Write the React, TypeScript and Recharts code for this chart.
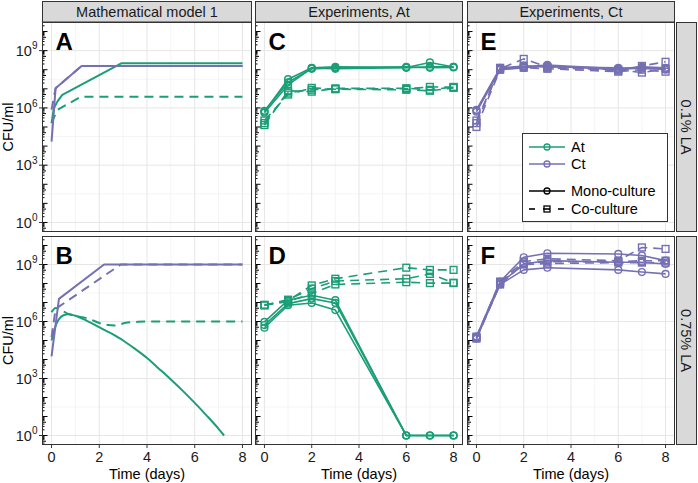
import React from 'react';
import { LineChart, Line, XAxis, YAxis, CartesianGrid } from 'recharts';

const GREEN = '#1B9E77';
const PURPLE = '#7570B3';
const FONT = '"Liberation Sans", Arial, Helvetica, sans-serif';

// ---------- data ----------
const expDays = [0, 1, 2, 3, 6, 7, 8];

// Panel A: model, 0.1% LA
const mA_AtMono_t = [0, 0.1, 0.25, 0.45, 2.94, 8];
const mA_AtMono_y = [1.6e5, 1e6, 2.2e6, 4.8e6, 2.2e8, 2.2e8];
const mA_AtCo_t = [0, 0.24, 1.23, 8];
const mA_AtCo_y = [1.6e5, 7.8e5, 3.9e6, 3.9e6];
const mA_CtMono_t = [0, 0.17, 1.26, 8];
const mA_CtMono_y = [1.7e4, 1.07e7, 1.58e8, 1.58e8];
const mA_CtCo_t = [0, 0.17, 1.26, 8];
const mA_CtCo_y = [8e5, 1.07e7, 1.58e8, 1.58e8];

// Panel B: model, 0.75% LA
const mB_AtMono_t = [0, 0.15, 0.3, 0.5, 0.7, 1, 1.5, 2, 2.5, 3, 3.5, 4, 4.5, 5, 5.5, 6, 6.5, 7, 7.23];
const mB_AtMono_y = [1e5, 5e5, 1.26e6, 2.14e6, 2.4e6, 2e6, 1.05e6, 5e5, 2.34e5, 1e5, 3.6e4, 1.2e4, 3.3e3, 890, 224, 52, 11.2, 2.24, 1];
const mB_AtCo_t = [0, 0.17, 0.7, 1.55, 2.1, 2.65, 3.1, 3.6, 4.2, 8];
const mB_AtCo_y = [3.1e6, 5.2e6, 2.5e6, 1.4e6, 7.6e5, 6.2e5, 8.5e5, 9.6e5, 1e6, 1e6];
const mB_CtMono_t = [0, 0.31, 2.2, 8];
const mB_CtMono_y = [1.45e4, 1.55e7, 1e9, 1e9];
const mB_CtCo_t = [0, 0.17, 2.9, 8];
const mB_CtCo_y = [1.5e5, 4.6e6, 1e9, 1e9];

// Panel C: experiments At, 0.1% LA (3 replicates)
const C_mono = [
  [6.3e5, 3.2e7, 1.26e8, 1.41e8, 1.32e8, 2.4e8, 1.4e8],
  [7.1e5, 2.2e7, 1.12e8, 1.26e8, 1.41e8, 1.26e8, 1.32e8],
  [5.6e5, 1.6e7, 1.2e8, 1.12e8, 1.26e8, 1.41e8, 1.41e8],
];
const C_co = [
  [1.6e5, 6.3e6, 8.9e6, 1e7, 1e7, 1.26e7, 1.2e7],
  [2.2e5, 5e6, 1.12e7, 9.5e6, 8.9e6, 7.9e6, 1.12e7],
  [1.26e5, 7.9e6, 7.1e6, 1.05e7, 1.07e7, 8.9e6, 1.26e7],
];

// Panel D: experiments At, 0.75% LA
const D_mono = [
  [9.5e5, 1.32e7, 2.4e7, 1.32e7, 1, 1, 1],
  [6.5e5, 8.7e6, 1.6e7, 9.5e6, 1, 1, 1],
  [4.7e5, 7.2e6, 9.5e6, 4e6, 1, 1, 1],
];
const D_co = [
  [7.6e6, 1.26e7, 7.9e7, 1.78e8, 6.8e8, 5.2e8, 5.2e8],
  [7.1e6, 1.41e7, 5.4e7, 1.35e8, 1.78e8, 3.2e8, 1.1e8],
  [7.2e6, 1.12e7, 3e7, 8.9e7, 1.17e8, 1.05e8, 1.05e8],
];

// Panel E: experiments Ct, 0.1% LA
const E_mono = [
  [7.2e5, 1.12e8, 1.41e8, 1.78e8, 1.12e8, 1.41e8, 1.26e8],
  [6.3e5, 1e8, 1.26e8, 1.58e8, 1e8, 1.26e8, 1e8],
  [7.9e5, 1.26e8, 1.58e8, 1.41e8, 1.26e8, 1.12e8, 1.12e8],
];
const E_co = [
  [2.2e5, 1.12e8, 3.7e8, 1.41e8, 8.9e7, 1.58e8, 2.6e8],
  [1e5, 1e8, 1.58e8, 1.26e8, 1e8, 7.1e7, 1.12e8],
  [1.6e5, 1.26e8, 1.26e8, 1.12e8, 7.9e7, 1e8, 7.9e7],
];

// Panel F: experiments Ct, 0.75% LA
const F_mono = [
  [1.6e5, 1.26e8, 2.4e9, 3.9e9, 3.6e9, 3e9, 1.6e9],
  [1.26e5, 1e8, 1.07e9, 1.6e9, 1.32e9, 1.32e9, 1.07e9],
  [1.41e5, 8.9e7, 5.2e8, 6.8e8, 5.2e8, 4e8, 3.2e8],
];
const F_co = [
  [1.41e5, 1.26e8, 1.41e9, 2e9, 1.58e9, 7.9e9, 6.6e9],
  [1.26e5, 8.9e7, 1.12e9, 1.41e9, 1.41e9, 1.58e9, 1.6e9],
  [1.6e5, 1.12e8, 1e9, 1.12e9, 1.26e9, 1.26e9, 1.26e9],
];

const xTicks = [0, 2, 4, 6, 8];
const xMinor = [1, 3, 5, 7];
const yMajor = [1, 1e3, 1e6, 1e9];
const yMinor = [10 ** 1.5, 10 ** 4.5, 10 ** 7.5];
const colTitles = ['Mathematical model 1', 'Experiments, At', 'Experiments, Ct'];
const rowTitles = ['0.1% LA', '0.75% LA'];
const letters = [['A', 'C', 'E'], ['B', 'D', 'F']];

// ---------- layout ----------
const COLS = [
  { left: 42, w: 210 },
  { left: 255, w: 208 },
  { left: 467, w: 208 },
];
const ROWS = [
  { top: 22, h: 210 },
  { top: 236, h: 209 },
];
const AXW = 40;
const Y_MIN = 10 ** -0.5;
const Y_MAX = 10 ** 10.5;

// annotation log ticks
const LOG_TICKS: number[] = [];
for (let d = -1; d <= 10; d++) {
  for (let m = 1; m <= 9; m++) {
    const v = m * 10 ** d;
    if (v >= Y_MIN && v <= Y_MAX) LOG_TICKS.push(v);
  }
}

type Pt = { x: number; y: number };
type Series = {
  pts: Pt[];
  color: string;
  dash: boolean;
  shape: 'none' | 'circle' | 'square';
  sw: number;
  curve: 'linear' | 'monotone';
};

const zip = (t: number[], y: number[]): Pt[] => t.map((x, i) => ({ x, y: y[i] }));

const model = (t: number[], y: number[], color: string, dash: boolean, curve: 'linear' | 'monotone' = 'linear'): Series => ({
  pts: zip(t, y), color, dash, shape: 'none', sw: 2, curve,
});
const exper = (reps: number[][], color: string, co: boolean): Series[] =>
  reps.map((r) => ({ pts: zip(expDays, r), color, dash: co, shape: co ? 'square' : 'circle', sw: 1.6, curve: 'linear' }));

const panelSeries: Series[][][] = [
  [
    [
      model(mA_AtCo_t, mA_AtCo_y, GREEN, true),
      model(mA_AtMono_t, mA_AtMono_y, GREEN, false),
      model(mA_CtCo_t, mA_CtCo_y, PURPLE, true),
      model(mA_CtMono_t, mA_CtMono_y, PURPLE, false),
    ],
    [...exper(C_co, GREEN, true), ...exper(C_mono, GREEN, false)],
    [...exper(E_co, PURPLE, true), ...exper(E_mono, PURPLE, false)],
  ],
  [
    [
      model(mB_AtCo_t, mB_AtCo_y, GREEN, true, 'monotone'),
      model(mB_AtMono_t, mB_AtMono_y, GREEN, false, 'monotone'),
      model(mB_CtCo_t, mB_CtCo_y, PURPLE, true),
      model(mB_CtMono_t, mB_CtMono_y, PURPLE, false),
    ],
    [...exper(D_co, GREEN, true), ...exper(D_mono, GREEN, false)],
    [...exper(F_co, PURPLE, true), ...exper(F_mono, PURPLE, false)],
  ],
];

function YTick(props: any) {
  const { y, payload, showLabel } = props;
  const v = payload.value as number;
  const e = Math.log10(v);
  const d = Math.floor(e + 1e-6);
  const m = Math.round(v / 10 ** d);
  const len = m === 1 ? 5.5 : m === 5 ? 4 : 2.5;
  const major = m === 1 && d >= 0 && d % 3 === 0;
  return (
    <g>
      <line x1={AXW} x2={AXW + len} y1={y} y2={y} stroke="#000" strokeWidth={1} />
      {major && showLabel && (
        <g>
          <line x1={AXW - 3} x2={AXW} y1={y} y2={y} stroke="#333" strokeWidth={1} />
          <text x={AXW - 4.5} y={y + 5.3} textAnchor="end" fontSize={14.5} fill="#1a1a1a" fontFamily={FONT}>
            10<tspan dy={-6.6} fontSize={10}>{d}</tspan>
          </text>
        </g>
      )}
    </g>
  );
}

function XTick(props: any) {
  const { x, payload, plotH } = props;
  return (
    <g>
      <line x1={x} x2={x} y1={plotH} y2={plotH + 3} stroke="#333" strokeWidth={1} />
      <text x={x} y={plotH + 17} textAnchor="middle" fontSize={14.5} fill="#1a1a1a" fontFamily={FONT}>
        {payload.value}
      </text>
    </g>
  );
}

function makeDot(shape: string, color: string) {
  if (shape === 'none') return false as const;
  return (p: any) => {
    const k = `d${p.index}`;
    if (p.cx == null || p.cy == null) return <g key={k} />;
    if (shape === 'circle')
      return <circle key={k} cx={p.cx} cy={p.cy} r={3.4} fill="none" stroke={color} strokeWidth={1.4} />;
    return <rect key={k} x={p.cx - 3.4} y={p.cy - 3.4} width={6.8} height={6.8} fill="none" stroke={color} strokeWidth={1.4} />;
  };
}

function Panel({ row, col }: { row: number; col: number }) {
  const { left, w } = COLS[col];
  const { top, h } = ROWS[row];
  const showX = row === 1;
  const showY = col === 0;
  const chartW = w + AXW;
  const chartH = h + (showX ? 40 : 0);
  const series = panelSeries[row][col];
  return (
    <div style={{ position: 'absolute', left: left - AXW, top, width: chartW, height: chartH }}>
      <LineChart width={chartW} height={chartH} margin={{ top: 0, right: 0, bottom: 0, left: 0 }}>
        <CartesianGrid horizontalValues={yMinor} verticalValues={xMinor} stroke="#F2F2F2" strokeWidth={0.8} />
        <CartesianGrid horizontalValues={yMajor} verticalValues={xTicks} stroke="#E6E6E6" strokeWidth={1} />
        <XAxis
          type="number"
          dataKey="x"
          domain={[-0.4, 8.4]}
          allowDataOverflow
          ticks={xTicks}
          interval={0}
          hide={!showX}
          height={40}
          axisLine={false}
          tickLine={false}
          tick={(p: any) => <XTick {...p} plotH={h} />}
        />
        <YAxis
          type="number"
          scale="log"
          domain={[Y_MIN, Y_MAX]}
          allowDataOverflow
          ticks={LOG_TICKS}
          interval={0}
          width={AXW}
          axisLine={false}
          tickLine={false}
          tick={(p: any) => <YTick {...p} showLabel={showY} />}
        />
        {series.map((s, i) => (
          <Line
            key={i}
            data={s.pts}
            dataKey="y"
            type={s.curve}
            stroke={s.color}
            strokeWidth={s.sw}
            strokeDasharray={s.dash ? '9 6' : undefined}
            strokeLinejoin="round"
            dot={makeDot(s.shape, s.color)}
            activeDot={false}
            isAnimationActive={false}
          />
        ))}
      </LineChart>
    </div>
  );
}

function Overlay() {
  const legendRows = [
    { y: 147, color: GREEN, label: 'At', kind: 'line' },
    { y: 164, color: PURPLE, label: 'Ct', kind: 'line' },
    { y: 191, color: '#000', label: 'Mono-culture', kind: 'mono' },
    { y: 209, color: '#000', label: 'Co-culture', kind: 'co' },
  ];
  return (
    <svg width={698} height={483} style={{ position: 'absolute', left: 0, top: 0, pointerEvents: 'none' }}>
      {/* column strips */}
      {COLS.map((c, i) => (
        <g key={`cs${i}`}>
          <rect x={c.left + 0.5} y={1.5} width={c.w - 1} height={20.5} fill="#D9D9D9" stroke="#333" strokeWidth={1} />
          <text x={c.left + c.w / 2} y={16.5} textAnchor="middle" fontSize={14.5} fill="#1a1a1a" fontFamily={FONT}>
            {colTitles[i]}
          </text>
        </g>
      ))}
      {/* row strips */}
      {ROWS.map((r, i) => (
        <g key={`rs${i}`}>
          <rect x={676.5} y={r.top + 0.5} width={20} height={r.h - 1} fill="#D9D9D9" stroke="#333" strokeWidth={1} />
          <text
            transform={`translate(686.5, ${r.top + r.h / 2}) rotate(90)`}
            textAnchor="middle"
            dy="0.35em"
            fontSize={14.5}
            fill="#1a1a1a"
            fontFamily={FONT}
          >
            {rowTitles[i]}
          </text>
        </g>
      ))}
      {/* panel borders + letters */}
      {ROWS.map((r, ri) =>
        COLS.map((c, ci) => (
          <g key={`p${ri}${ci}`}>
            <rect x={c.left + 0.5} y={r.top + 0.5} width={c.w - 1} height={r.h - 1} fill="none" stroke="#333" strokeWidth={1} />
            <text x={c.left + 13.5} y={r.top + 27.5} fontSize={24} fontWeight="bold" fill="#000" fontFamily={FONT}>
              {letters[ri][ci]}
            </text>
          </g>
        ))
      )}
      {/* y titles */}
      {ROWS.map((r, i) => (
        <text
          key={`yt${i}`}
          transform={`translate(8, ${r.top + r.h / 2}) rotate(-90)`}
          textAnchor="middle"
          dy="0.35em"
          fontSize={14.5}
          fill="#000"
          fontFamily={FONT}
        >
          CFU/ml
        </text>
      ))}
      {/* x titles */}
      {COLS.map((c, i) => (
        <text key={`xt${i}`} x={c.left + c.w / 2} y={479} textAnchor="middle" fontSize={14.5} fill="#000" fontFamily={FONT}>
          Time (days)
        </text>
      ))}
      {/* legend */}
      <rect x={522.5} y={133.5} width={145} height={88} fill="#fff" stroke="#333" strokeWidth={1} />
      {legendRows.map((l, i) => (
        <g key={`lg${i}`}>
          {l.kind === 'co' ? (
            <g>
              <line x1={529} x2={535} y1={l.y} y2={l.y} stroke="#000" strokeWidth={1.6} />
              <line x1={543} x2={550} y1={l.y} y2={l.y} stroke="#000" strokeWidth={1.6} />
              <line x1={558} x2={564} y1={l.y} y2={l.y} stroke="#000" strokeWidth={1.6} />
              <rect x={544} y={l.y - 3} width={6} height={6} fill="none" stroke="#000" strokeWidth={1.3} />
            </g>
          ) : (
            <g>
              <line x1={529} x2={565} y1={l.y} y2={l.y} stroke={l.color} strokeWidth={1.6} />
              <circle cx={547} cy={l.y} r={3} fill="none" stroke={l.color} strokeWidth={1.3} />
            </g>
          )}
          <text x={571} y={l.y + 5} fontSize={14.5} fill="#000" fontFamily={FONT}>
            {l.label}
          </text>
        </g>
      ))}
    </svg>
  );
}

export default function App() {
  return (
    <div style={{ position: 'absolute', left: 0, top: 0, width: 698, height: 483, background: '#fff', fontFamily: FONT }}>
      {[0, 1].map((r) => [0, 1, 2].map((c) => <Panel key={`${r}-${c}`} row={r} col={c} />))}
      <Overlay />
    </div>
  );
}
